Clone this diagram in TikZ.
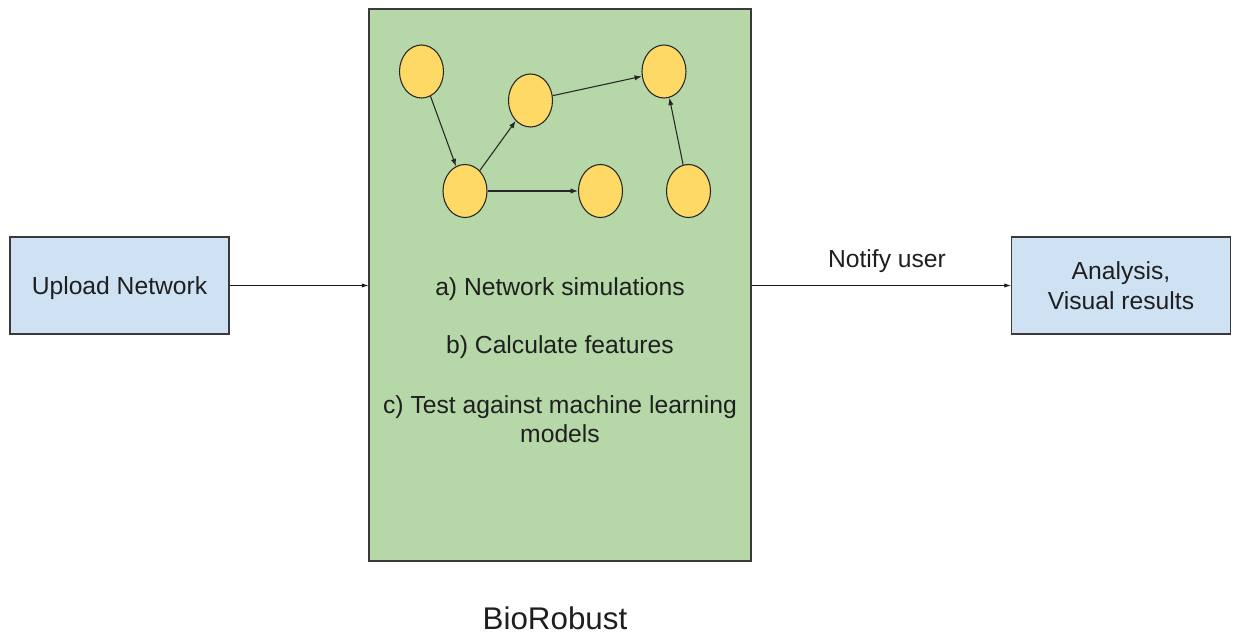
\documentclass[tikz,border=0pt]{standalone}
\usepackage{fontspec}
\setmainfont{Liberation Sans}
\usetikzlibrary{arrows.meta,shapes.geometric}
\definecolor{boxblue}{HTML}{CFE2F3}
\definecolor{boxgreen}{HTML}{B6D7A8}
\definecolor{nodeyellow}{HTML}{FFD966}
\definecolor{edgegray}{HTML}{3A3A3A}
\begin{document}
\begin{tikzpicture}[x=0.75pt,y=-0.75pt,
  txt/.style={font=\fontsize{18.5pt}{22pt}\selectfont, text=black!88},
  bluebox/.style={draw=edgegray, line width=0.8pt, fill=boxblue, minimum width=219*0.75pt, minimum height=97*0.75pt, align=center, text depth=0pt, txt},
  greenbox/.style={draw=edgegray, line width=0.8pt, fill=boxgreen, minimum width=382*0.75pt, minimum height=552*0.75pt},
  vertex/.style={ellipse, draw=black!85, line width=0.8pt, fill=nodeyellow, minimum width=44*0.75pt, minimum height=53*0.75pt, inner sep=0pt},
  link/.style={draw=black!85, line width=0.8pt, -{Latex[length=5.5pt,width=4pt]}},
  flow/.style={draw=black!90, line width=0.6pt, -{Latex[length=5pt,width=3.2pt]}}
]
\useasboundingbox (0,0) rectangle (1236,635);

% main blocks
\node[bluebox] (upload) at (119.5,285.5) {Upload Network};
\node[greenbox] (core) at (560,285) {};
\node[bluebox] (results) at (1121,285.5) {Analysis,\\Visual results};

% small network inside the core block
\node[vertex] (v1) at (421.5,71.5) {};
\node[vertex] (v2) at (530.5,100.5) {};
\node[vertex] (v3) at (664,71.5) {};
\node[vertex] (v4) at (465,191) {};
\node[vertex] (v5) at (600.5,191) {};
\node[vertex] (v6) at (688.5,191) {};
\draw[link] (v1) -- (v4);
\draw[link] (v4) -- (v2);
\draw[link] (v2) -- (v3);
\draw[link] (v4) -- (v5);
\draw[link] (v6) -- (v3);

% processing steps
\node[txt] (sa) at (560,289) {a) Network simulations};
\node[txt] (sb) at (560,347) {b) Calculate features};
\node[txt, align=center] (sc) at (560,419) {c) Test against machine learning\\models};

% flow between blocks
\coordinate (inL) at (core.west |- upload.center);
\coordinate (outR) at (core.east |- results.center);
\draw[flow] (upload.east |- upload.center) -- (inL);
\draw[flow] (outR) -- (results.west |- results.center);
\node[txt] (notify) at (887,261) {Notify user};

\node[font=\fontsize{23.5pt}{28pt}\selectfont, text=black!88] (title) at (555,618) {BioRobust};
\end{tikzpicture}
\end{document}
